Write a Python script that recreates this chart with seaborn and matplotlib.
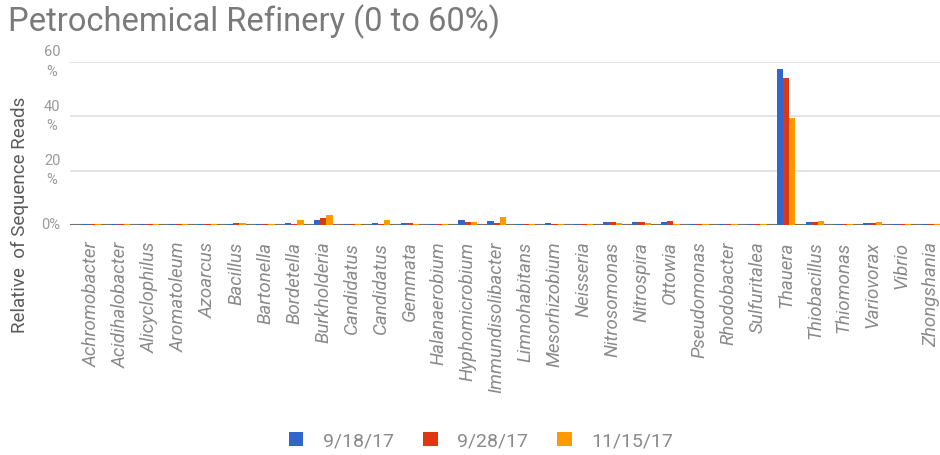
import matplotlib
matplotlib.use("Agg")
import matplotlib.pyplot as plt
import seaborn as sns
import pandas as pd

# Genera (Candidatus appears twice, as two distinct entries)
genera = [
    "Achromobacter", "Acidihalobacter", "Alicyclophilus", "Aromatoleum", "Azoarcus",
    "Bacillus", "Bartonella", "Bordetella", "Burkholderia", "Candidatus",
    "Candidatus", "Gemmata", "Halanaerobium", "Hyphomicrobium", "Immundisolibacter",
    "Limnohabitans", "Mesorhizobium", "Neisseria", "Nitrosomonas", "Nitrospira",
    "Ottowia", "Pseudomonas", "Rhodobacter", "Sulfuritalea", "Thauera",
    "Thiobacillus", "Thiomonas", "Variovorax", "Vibrio", "Zhongshania",
]
dates = ["9/18/17", "9/28/17", "11/15/17"]

# Relative abundance (% of sequence reads) per sampling date
reads_0918 = [0.4, 0.4, 0.3, 0.2, 0.3, 0.5, 0.3, 0.6, 2.0, 0.3,
              0.6, 0.7, 0.3, 1.8, 1.6, 0.3, 0.7, 0.3, 1.2, 1.2,
              1.2, 0.4, 0.3, 0.3, 57.3, 1.0, 0.3, 0.8, 0.3, 0.3]
reads_0928 = [0.4, 0.3, 0.3, 0.3, 0.4, 0.6, 0.3, 0.4, 2.6, 0.3,
              0.4, 0.6, 0.3, 1.2, 0.6, 0.3, 0.5, 0.3, 1.2, 1.0,
              1.6, 0.3, 0.3, 0.3, 54.0, 1.0, 0.4, 0.8, 0.3, 0.3]
reads_1115 = [0.3, 0.3, 0.3, 0.2, 0.3, 0.9, 0.2, 2.0, 3.8, 0.3,
              1.8, 0.3, 0.3, 1.0, 3.0, 0.3, 0.3, 0.2, 0.8, 0.8,
              0.4, 0.3, 0.3, 0.3, 39.4, 1.6, 0.3, 1.2, 0.2, 0.2]

y_ticks = [0, 20, 40, 60]
y_tick_labels = ["0%", "20\n%", "40\n%", "60\n%"]

colors = ["#3366CC", "#DC3912", "#FF9900"]

rows = []
for date, series in zip(dates, [reads_0918, reads_0928, reads_1115]):
    for i, v in enumerate(series):
        rows.append({"slot": i, "date": date, "reads": v})
df = pd.DataFrame(rows)

sns.set_theme(style="white")
plt.rcParams["font.family"] = ["Roboto", "DejaVu Sans"]

W, H = 940, 455
fig = plt.figure(figsize=(W / 100, H / 100), dpi=100)
ax = fig.add_axes([70 / W, 1 - 225 / H, 870 / W, (225 - 62) / H])

sns.barplot(data=df, x="slot", y="reads", hue="date", hue_order=dates,
            palette=colors, saturation=1, width=0.65, linewidth=0,
            errorbar=None, ax=ax, zorder=3)

ax.set_xlim(-0.75, 29.32)
ax.set_ylim(0, 60)
for s in ax.spines.values():
    s.set_visible(False)

ax.set_yticks(y_ticks)
ax.set_yticklabels(y_tick_labels, color="#9a9a9a", fontsize=10.5,
                   va="center", ma="center", linespacing=1.5)
ax.tick_params(axis="y", length=0, pad=7)
ax.grid(axis="y", color="#e4e4e4", linewidth=1.4)
ax.set_axisbelow(True)
ax.axhline(0, color="#707070", linewidth=1.5, zorder=2)

ax.set_xticks(range(len(genera)))
ax.set_xticklabels(genera, rotation=90, style="italic", color="#8a8a8a",
                   fontsize=13.5, ha="center", va="top")
ax.tick_params(axis="x", length=0, pad=12)
ax.set_xlabel("")
ax.set_ylabel("")

fig.text(8 / W, 1 - 22 / H, "Petrochemical Refinery (0 to 60%)",
         fontsize=23.5, color="#7a7a7a", ha="left", va="center")
fig.text(20 / W, 1 - 215 / H, "Relative  of Sequence Reads", rotation=90,
         fontsize=13.5, color="#5a5a5a", ha="center", va="center")

sns.move_legend(ax, "center", bbox_to_anchor=(481 / W, 1 - 441 / H),
                bbox_transform=fig.transFigure, ncol=3, frameon=False,
                title=None, fontsize=14, handlelength=0.75, handleheight=0.75,
                columnspacing=1.5, handletextpad=1.0,
                labelcolor="#8a8a8a")

fig.savefig("out.png", dpi=100, facecolor="white")
